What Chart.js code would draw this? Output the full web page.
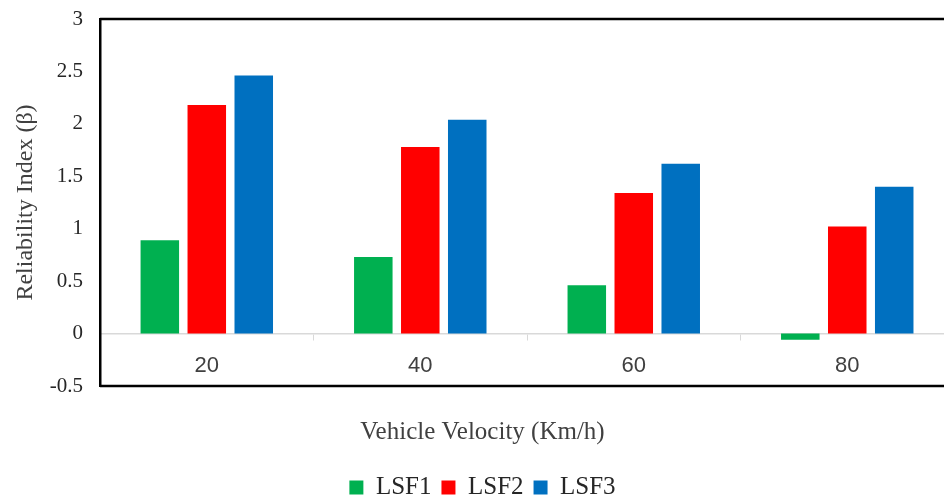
<!DOCTYPE html>
<html>
<head>
<meta charset="utf-8">
<script src="https://cdn.jsdelivr.net/npm/chart.js@4/dist/chart.umd.min.js"></script>
<style>
  html, body { margin: 0; padding: 0; background: #fff; overflow: hidden; }
</style>
</head>
<body>
<canvas id="myChart" width="954" height="510"></canvas>
<script>
// valeurs
const velocities = ["20", "40", "60", "80"];
const lsf1 = [0.89, 0.73, 0.46, -0.06];
const lsf2 = [2.18, 1.78, 1.34, 1.02];
const lsf3 = [2.46, 2.04, 1.62, 1.40];
const yTickLabels = ["-0.5", "0", "0.5", "1", "1.5", "2", "2.5", "3"];

const ctx = document.getElementById('myChart');

// cadre noir autour de la zone de tracé (haut + bas, la gauche c'est la bordure de l'axe y)
const framePlugin = {
    id: 'frame',
    afterDraw: (chart) => {
        const { ctx, chartArea } = chart;
        ctx.save();
        ctx.strokeStyle = '#000';
        ctx.lineWidth = 2.5;
        ctx.beginPath();
        ctx.moveTo(chartArea.left, chartArea.top);
        ctx.lineTo(chartArea.right, chartArea.top);
        ctx.moveTo(chartArea.left, chartArea.bottom);
        ctx.lineTo(chartArea.right, chartArea.bottom);
        ctx.stroke();
        ctx.restore();
    }
};

let config = {
    type: 'bar',
    data: {
        labels: velocities,
        datasets: [
            { label: 'LSF1', data: lsf1, backgroundColor: '#00B050' },
            { label: 'LSF2', data: lsf2, backgroundColor: '#FF0000' },
            { label: 'LSF3', data: lsf3, backgroundColor: '#0070C0' }
        ]
    },
    options: {
        responsive: false,
        animation: false,
        categoryPercentage: 0.66,
        barPercentage: 0.82,
        layout: {
            padding: { left: 11, top: 19, right: 0, bottom: 0 }
        },
        scales: {
            x: {
                position: { y: 0 },
                offset: true,
                grid: { offset: true, drawOnChartArea: false, tickLength: 6, color: '#d9d9d9', lineWidth: 1 },
                border: { color: '#d9d9d9', width: 1.5 },
                ticks: {
                    font: { family: 'Liberation Sans', size: 22 },
                    color: '#404040',
                    padding: 13,
                    maxRotation: 0
                }
            },
            y: {
                min: -0.5,
                max: 3,
                // pas de traits, mais tickLength sert d'écart entre les labels et l'axe
                grid: { display: false, drawTicks: true, tickLength: 13 },
                border: { color: '#000', width: 2.5 },
                ticks: {
                    stepSize: 0.5,
                    font: { family: 'Liberation Serif', size: 21 },
                    color: '#262626',
                    padding: 4,
                    callback: (value, index) => yTickLabels[index]
                },
                title: {
                    display: true,
                    text: 'Reliability Index (β)',
                    font: { family: 'Liberation Serif', size: 24 },
                    color: '#404040',
                    padding: { top: 0, bottom: 6 }
                }
            }
        },
        plugins: {
            tooltip: { enabled: false },
            title: {
                display: true,
                position: 'bottom',
                weight: 500,
                text: 'Vehicle Velocity (Km/h)',
                font: { family: 'Liberation Serif', size: 25, weight: 'normal' },
                color: '#404040',
                padding: { top: 31, bottom: 18 }
            },
            legend: {
                position: 'bottom',
                weight: 1000,
                labels: {
                    boxWidth: 14,
                    boxHeight: 14,
                    padding: 10,
                    font: { family: 'Liberation Serif', size: 25 },
                    color: '#262626'
                }
            }
        }
    },
    plugins: [framePlugin]
};

const graph = new Chart(ctx, config);
</script>
</body>
</html>
